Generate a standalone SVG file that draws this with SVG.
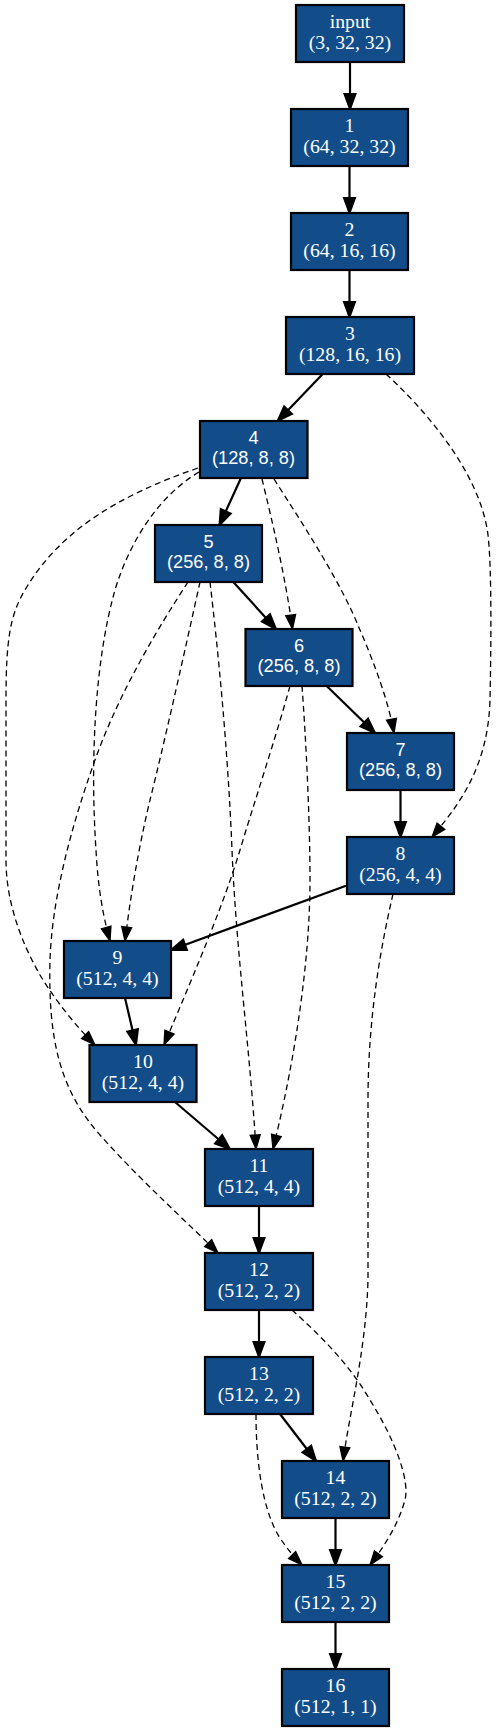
<svg xmlns="http://www.w3.org/2000/svg" width="497" height="1731" viewBox="0 0 497 1731">
<style>
.n rect{fill:#124d89;stroke:#000;stroke-width:2.2}
.n text{fill:#fff;text-anchor:middle}
.serif text{font-family:"Liberation Serif","Times New Roman",serif;font-size:19.8px}
.sans text{font-family:"Liberation Sans",Arial,sans-serif;font-size:18.2px}
.e path{fill:none;stroke:#000}
.s{stroke-width:2.2;marker-end:url(#ah)}
.d{stroke-width:1.3;stroke-dasharray:6,4;marker-end:url(#ad)}
</style>
<defs>
<marker id="ah" markerUnits="userSpaceOnUse" viewBox="-2 -8 19 16" markerWidth="19" markerHeight="16" refX="15" refY="0" orient="auto"><path d="M0,-5.5 L15,0 L0,5.5 Z" fill="#000" stroke="#000" stroke-width="2"/></marker>
<marker id="ad" markerUnits="userSpaceOnUse" viewBox="-2 -8 19 16" markerWidth="19" markerHeight="16" refX="14" refY="0" orient="auto"><path d="M0,-5 L14,0 L0,5 Z" fill="#000" stroke="#000" stroke-width="1.3"/></marker>
</defs>
<rect width="497" height="1731" fill="#fff"/>
<g id="edges" class="e">
<path class="s" d="M350,62 L350,109"/>
<path class="s" d="M349.5,166 L349.5,213"/>
<path class="s" d="M349.5,270 L349.5,317"/>
<path class="s" d="M322.7,374 L277.7,421"/>
<path class="s" d="M241,478 L219.5,525"/>
<path class="s" d="M233.3,582 L276,629"/>
<path class="s" d="M326.7,686 L375,733"/>
<path class="s" d="M400.5,790 L400.5,837"/>
<path class="s" d="M346,885.7 L171,950"/>
<path class="s" d="M125,998 L136,1045"/>
<path class="s" d="M175,1102 L230,1149"/>
<path class="s" d="M259,1206 L259,1253"/>
<path class="s" d="M259,1310 L259,1357"/>
<path class="s" d="M280,1414 L316,1461"/>
<path class="s" d="M335.5,1518 L335.5,1565"/>
<path class="s" d="M335.5,1622 L335.5,1669"/>
<path class="d" d="M386,374 C420,405 480,470 488,535 C492,570 491,650 490,700 C488,770 456,808 432,837"/>
<path class="d" d="M262,479 C272,520 286,580 292.5,629"/>
<path class="d" d="M274,479 C300,520 340,580 360,630 C375,665 388,700 394,733"/>
<path class="d" d="M199,472 C160,495 130,540 115,590 C95,660 90,760 96,850 C98,890 104,920 110,941"/>
<path class="d" d="M198,468 C120,495 60,530 25,590 C10,615 6,640 6,700 L6,860 C6,900 20,940 40,975 C55,1000 75,1025 95,1045"/>
<path class="d" d="M188,582 C160,625 120,690 95,760 C70,830 52,900 50,960 C48,1040 60,1090 100,1135 C140,1180 190,1225 218,1253"/>
<path class="d" d="M200,582 C185,650 165,740 150,800 C138,850 130,900 125,941"/>
<path class="d" d="M210,582 C218,650 228,750 232,850 C236,950 250,1050 256,1149"/>
<path class="d" d="M290,686 C275,740 255,800 240,850 C225,900 200,960 164,1045"/>
<path class="d" d="M302,686 C306,740 310,820 310,880 C310,960 295,1060 273,1149"/>
<path class="d" d="M393,894 C380,950 368,1020 368,1100 L368,1280 C366,1350 350,1410 343,1461"/>
<path class="d" d="M292,1310 C320,1335 350,1365 370,1400 C395,1440 410,1480 405,1500 C398,1525 385,1545 370,1565"/>
<path class="d" d="M256,1414 C256,1460 262,1510 280,1538 C288,1550 295,1558 302,1565"/>
</g>
<g id="node-input" class="n serif"><rect x="296" y="5" width="108" height="57"/><text x="350" y="27.5">input</text><text x="350" y="49">(3, 32, 32)</text></g>
<g id="node-1" class="n serif"><rect x="291" y="109" width="117" height="57"/><text x="349.5" y="131.5">1</text><text x="349.5" y="153">(64, 32, 32)</text></g>
<g id="node-2" class="n serif"><rect x="291" y="213" width="117" height="57"/><text x="349.5" y="235.5">2</text><text x="349.5" y="257">(64, 16, 16)</text></g>
<g id="node-3" class="n serif"><rect x="286" y="317" width="128" height="57"/><text x="350" y="339.5">3</text><text x="350" y="361">(128, 16, 16)</text></g>
<g id="node-4" class="n sans"><rect x="200" y="421" width="107.5" height="57"/><text x="253.5" y="443.5">4</text><text x="253.5" y="464">(128, 8, 8)</text></g>
<g id="node-5" class="n sans"><rect x="155" y="525" width="107" height="57"/><text x="208.5" y="547.5">5</text><text x="208.5" y="568">(256, 8, 8)</text></g>
<g id="node-6" class="n sans"><rect x="245.5" y="629" width="107" height="57"/><text x="299" y="651.5">6</text><text x="299" y="672">(256, 8, 8)</text></g>
<g id="node-7" class="n sans"><rect x="347" y="733" width="107" height="57"/><text x="400.5" y="755.5">7</text><text x="400.5" y="776">(256, 8, 8)</text></g>
<g id="node-8" class="n serif"><rect x="347" y="837" width="107" height="57"/><text x="400.5" y="859.5">8</text><text x="400.5" y="881">(256, 4, 4)</text></g>
<g id="node-9" class="n serif"><rect x="64" y="941" width="107" height="57"/><text x="117.5" y="963.5">9</text><text x="117.5" y="985">(512, 4, 4)</text></g>
<g id="node-10" class="n serif"><rect x="89.5" y="1045" width="107" height="57"/><text x="143" y="1067.5">10</text><text x="143" y="1089">(512, 4, 4)</text></g>
<g id="node-11" class="n serif"><rect x="205" y="1149" width="108" height="57"/><text x="259" y="1171.5">11</text><text x="259" y="1193">(512, 4, 4)</text></g>
<g id="node-12" class="n serif"><rect x="205" y="1253" width="108" height="57"/><text x="259" y="1275.5">12</text><text x="259" y="1297">(512, 2, 2)</text></g>
<g id="node-13" class="n serif"><rect x="205" y="1357" width="108" height="57"/><text x="259" y="1379.5">13</text><text x="259" y="1401">(512, 2, 2)</text></g>
<g id="node-14" class="n serif"><rect x="282" y="1461" width="107" height="57"/><text x="335.5" y="1483.5">14</text><text x="335.5" y="1505">(512, 2, 2)</text></g>
<g id="node-15" class="n serif"><rect x="282" y="1565" width="107" height="57"/><text x="335.5" y="1587.5">15</text><text x="335.5" y="1609">(512, 2, 2)</text></g>
<g id="node-16" class="n serif"><rect x="282" y="1669" width="107" height="57"/><text x="335.5" y="1691.5">16</text><text x="335.5" y="1713">(512, 1, 1)</text></g>
</svg>
